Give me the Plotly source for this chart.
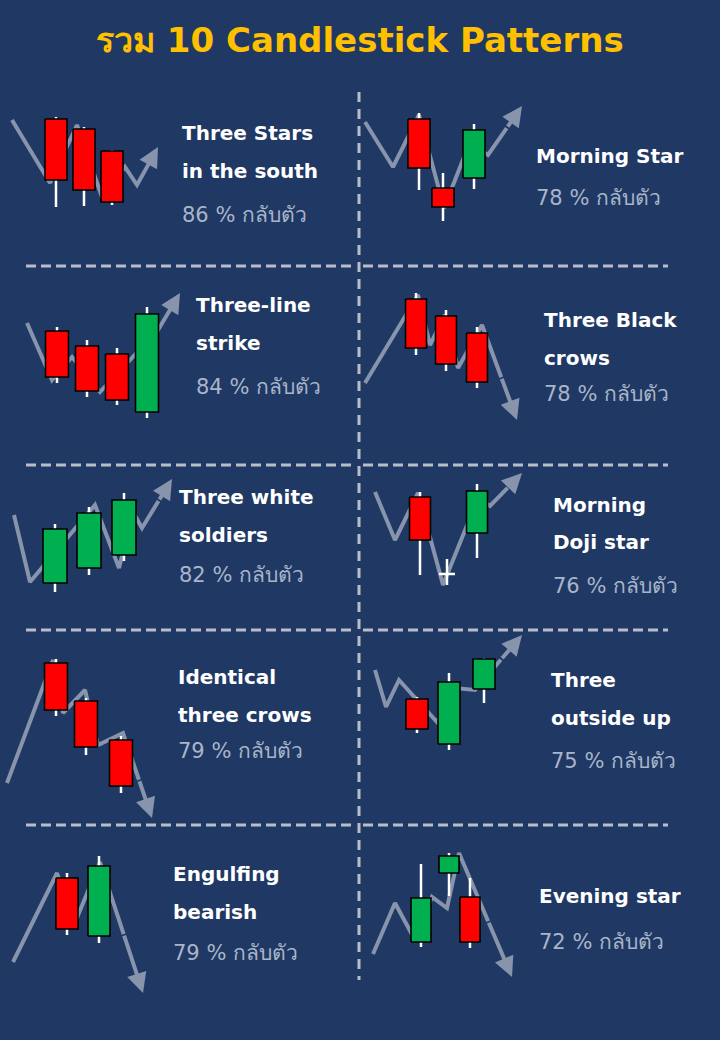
import plotly.graph_objects as go

# ---------------- data ----------------
title_text = "รวม 10 Candlestick Patterns"

pattern_lines = [
    ["Three Stars", "in the south"],
    ["Morning Star"],
    ["Three-line", "strike"],
    ["Three Black", "crows"],
    ["Three white", "soldiers"],
    ["Morning", "Doji star"],
    ["Identical", "three crows"],
    ["Three", "outside up"],
    ["Engulfing", "bearish"],
    ["Evening star"],
]
reversal_pct = [86, 78, 84, 78, 82, 76, 79, 75, 79, 72]
pct_suffix = "% กลับตัว"

# candles per pattern: time position, open, high, low, close (local price units)
candle_t = [
    [56, 84, 112],
    [59, 83, 114],
    [57, 87, 117, 147],
    [56, 86, 117],
    [55, 89, 124],
    [60, 87, 117],
    [56, 86, 121],
    [57, 89, 124],
    [67, 99],
    [61, 89, 110],
]
candle_open = [
    [171, 161, 139],
    [171, 102, 112],
    [137, 122, 114, 56],
    [169, 152, 135],
    [83, 98, 111],
    [169, 92, 133],
    [168, 130, 91],
    [132, 87, 142],
    [148, 90],
    [84, 153, 129],
]
candle_high = [
    [173, 163, 140],
    [177, 117, 166],
    [141, 128, 120, 161],
    [175, 158, 141],
    [142, 159, 173],
    [174, 107, 182],
    [172, 133, 95],
    [134, 158, 173],
    [153, 170],
    [162, 173, 148],
]
candle_low = [
    [83, 84, 85],
    [100, 69, 101],
    [85, 71, 63, 50],
    [113, 97, 80],
    [74, 91, 105],
    [91, 81, 108],
    [115, 76, 38],
    [98, 81, 128],
    [91, 83],
    [79, 130, 78],
]
candle_close = [
    [110, 100, 88],
    [122, 83, 160],
    [91, 77, 68, 154],
    [120, 104, 86],
    [137, 153, 166],
    [126, 92, 175],
    [121, 84, 45],
    [102, 149, 172],
    [97, 160],
    [128, 170, 84],
]
body_width = [22, 22, 23, 21, 24, 21, 23, 22, 22, 20]

# price path (trend line) per pattern, ends with arrow tip
trend_t = [
    [12, 50, 77, 102, 125, 137, 158],
    [5, 33, 59, 84, 110, 128, 162],
    [27, 52, 72, 100, 158, 180],
    [5, 58, 70, 85, 98, 122, 157],
    [14, 30, 95, 119, 133, 142, 172],
    [15, 35, 58, 83, 118, 130, 162],
    [7, 53, 63, 85, 98, 123, 152],
    [15, 26, 39, 77, 95, 115, 162],
    [13, 57, 74, 100, 143],
    [13, 35, 55, 72, 87, 99, 152],
]
trend_p = [
    [170, 107, 165, 93, 123, 105, 143],
    [168, 123, 175, 82, 148, 135, 184],
    [145, 88, 111, 76, 138, 175],
    [85, 173, 123, 153, 100, 143, 48],
    [151, 84, 161, 98, 154, 138, 187],
    [174, 126, 173, 81, 168, 160, 193],
    [48, 171, 118, 141, 86, 98, 13],
    [161, 124, 151, 109, 143, 141, 196],
    [64, 153, 101, 164, 33],
    [72, 123, 86, 129, 118, 173, 49],
]

# ---------------- styling / layout ----------------
W, H = 720, 1040
BG = "#1f3864"
RED = "#ff0000"
GREEN = "#00b050"
TREND = "#8794ab"
DASH = "#b9bdc7"
TITLE_COL = "#ffc000"
PCT_COL = "#a9b5c9"

col_x0 = [0, 360]
row_top = [90, 268, 466, 631, 826]
BOX = 200  # subplot box size (px) == axis range

text_x = [180, 534, 194, 542, 177, 551, 176, 549, 171, 537]
text_y = [
    [133, 171, 215],
    [156, 198],
    [305, 343, 387],
    [320, 358, 394],
    [497, 535, 575],
    [505, 542, 586],
    [677, 715, 751],
    [680, 718, 761],
    [874, 912, 953],
    [896, 942],
]

fig = go.Figure()
annotations = []
layout_axes = {}

for i in range(10):
    r, c = divmod(i, 2)
    x0 = col_x0[c]
    y0 = row_top[r]
    n = "" if i == 0 else str(i + 1)
    xa, ya = "x" + n, "y" + n
    layout_axes["xaxis" + n] = dict(
        domain=[x0 / W, (x0 + BOX) / W], range=[0, BOX], visible=False,
        fixedrange=True, anchor=ya,
    )
    layout_axes["yaxis" + n] = dict(
        domain=[1 - (y0 + BOX) / H, 1 - y0 / H], range=[0, BOX], visible=False,
        fixedrange=True, anchor=xa,
    )

    # trend line (stop before tip; annotation draws arrow to tip)
    tt, tp = trend_t[i], trend_p[i]
    frac = 0.55
    tail_t = tt[-2] + (tt[-1] - tt[-2]) * frac
    tail_p = tp[-2] + (tp[-1] - tp[-2]) * frac
    fig.add_trace(go.Scatter(
        x=tt[:-1] + [tail_t], y=tp[:-1] + [tail_p], mode="lines",
        line=dict(color=TREND, width=4), xaxis=xa, yaxis=ya,
        hoverinfo="skip", showlegend=False,
    ))
    annotations.append(dict(
        x=tt[-1], y=tp[-1], ax=tail_t, ay=tail_p, xref=xa, yref=ya,
        axref=xa, ayref=ya, showarrow=True, arrowhead=2, arrowsize=1,
        arrowwidth=4, arrowcolor=TREND, text="", standoff=0,
    ))

    # wicks
    wx, wy = [], []
    bw = body_width[i]
    for t, o, h, l, cl in zip(candle_t[i], candle_open[i], candle_high[i],
                              candle_low[i], candle_close[i]):
        wx += [t, t, None]
        wy += [l, h, None]
        if o == cl:  # doji: horizontal tick
            wx += [t - 8, t + 8, None]
            wy += [o, o, None]
    fig.add_trace(go.Scatter(
        x=wx, y=wy, mode="lines", line=dict(color="white", width=2.5),
        xaxis=xa, yaxis=ya, hoverinfo="skip", showlegend=False,
    ))

    # bodies
    for t, o, cl in zip(candle_t[i], candle_open[i], candle_close[i]):
        if o == cl:
            continue
        col = GREEN if cl > o else RED
        fig.add_trace(go.Scatter(
            x=[t - bw / 2, t + bw / 2, t + bw / 2, t - bw / 2, t - bw / 2],
            y=[o, o, cl, cl, o], mode="lines", fill="toself",
            fillcolor=col, line=dict(color="black", width=1.6),
            xaxis=xa, yaxis=ya, hoverinfo="skip", showlegend=False,
        ))

    # labels
    lines = pattern_lines[i]
    for k, txt in enumerate(lines):
        annotations.append(dict(
            x=text_x[i] / W, y=1 - text_y[i][k] / H, xref="paper", yref="paper",
            xanchor="left", yanchor="middle", showarrow=False, text=txt,
            font=dict(family="DejaVu Sans", size=20, color="white", weight="bold"),
        ))
    annotations.append(dict(
        x=text_x[i] / W, y=1 - text_y[i][len(lines)] / H, xref="paper", yref="paper",
        xanchor="left", yanchor="middle", showarrow=False,
        text=f"{reversal_pct[i]} {pct_suffix}",
        font=dict(family="DejaVu Sans, Noto Sans", size=21, color=PCT_COL),
    ))

annotations.append(dict(
    x=0.5, y=1 - 40 / H, xref="paper", yref="paper", xanchor="center",
    yanchor="middle", showarrow=False, text=title_text,
    font=dict(family="DejaVu Sans", size=34, color=TITLE_COL, weight="bold"),
))

# dashed separators
shapes = []
for yy in [266, 465, 630, 825]:
    for xa0, xa1 in [(26, 355), (363, 668)]:
        shapes.append(dict(
            type="line", xref="paper", yref="paper", x0=xa0 / W, x1=xa1 / W,
            y0=1 - yy / H, y1=1 - yy / H,
            line=dict(color=DASH, width=3, dash="10px,5px"),
        ))
shapes.append(dict(
    type="line", xref="paper", yref="paper", x0=359 / W, x1=359 / W,
    y0=1 - 92 / H, y1=1 - 980 / H,
    line=dict(color=DASH, width=3, dash="10px,7px"),
))

fig.update_layout(
    width=W, height=H, autosize=False,
    margin=dict(l=0, r=0, t=0, b=0),
    paper_bgcolor=BG, plot_bgcolor="rgba(0,0,0,0)",
    showlegend=False, annotations=annotations, shapes=shapes,
    **layout_axes,
)

fig.write_html("out.html", config={"displayModeBar": False})
